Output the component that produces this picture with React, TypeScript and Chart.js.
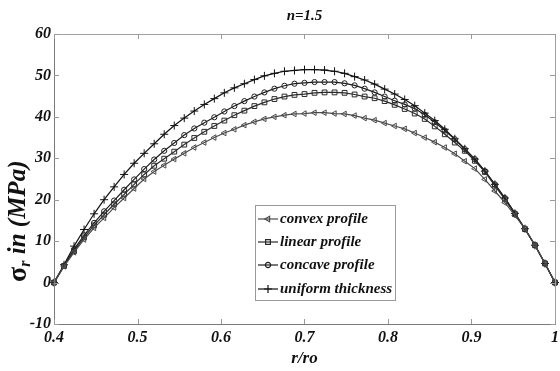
import React, { useEffect, useRef } from "react";
import { Chart, registerables } from "chart.js";

Chart.register(...registerables);

const rRatio = [
  0.4, 0.412, 0.424, 0.436, 0.448, 0.46, 0.472, 0.484, 0.496, 0.508,
  0.52, 0.532, 0.544, 0.556, 0.568, 0.58, 0.592, 0.604, 0.616, 0.628,
  0.64, 0.652, 0.664, 0.676, 0.688, 0.7, 0.712, 0.724, 0.736, 0.748,
  0.76, 0.772, 0.784, 0.796, 0.808, 0.82, 0.832, 0.844, 0.856, 0.868,
  0.88, 0.892, 0.904, 0.916, 0.928, 0.94, 0.952, 0.964, 0.976, 0.988, 1.0,
];

const convexProfile = [
  0, 3.9, 7.3, 10.4, 13.2, 15.6, 18.1, 20.4, 22.7, 25.0,
  26.8, 28.3, 29.8, 31.2, 32.6, 33.8, 35.0, 36.1, 37.0, 38.0,
  38.8, 39.5, 40.0, 40.4, 40.7, 40.8, 41.0, 41.0, 40.8, 40.7,
  40.3, 39.7, 39.2, 38.5, 37.8, 37.1, 36.1, 35.0, 33.9, 32.6,
  31.1, 29.3, 27.5, 24.9, 22.1, 19.3, 16.2, 13.0, 9.0, 4.6, 0,
];

const linearProfile = [
  0, 4.0, 7.6, 10.9, 13.8, 16.4, 18.9, 21.3, 23.7, 26.1,
  28.2, 29.9, 31.6, 33.3, 34.9, 36.4, 37.8, 39.1, 40.4, 41.5,
  42.6, 43.5, 44.3, 44.9, 45.3, 45.5, 45.8, 45.9, 45.9, 45.8,
  45.4, 44.9, 44.5, 43.8, 42.9, 41.9, 40.8, 39.5, 37.7, 35.8,
  33.8, 31.8, 29.4, 26.7, 23.4, 20.1, 16.5, 12.9, 9.0, 4.6, 0,
];

const concaveProfile = [
  0, 4.1, 8.0, 11.4, 14.4, 17.2, 19.8, 22.4, 24.9, 27.4,
  29.7, 31.8, 33.7, 35.6, 37.2, 38.6, 39.9, 41.3, 42.6, 43.8,
  44.9, 45.9, 46.8, 47.5, 48.0, 48.2, 48.4, 48.4, 48.4, 48.1,
  47.6, 46.8, 45.9, 44.9, 43.9, 43.0, 42.0, 40.5, 38.7, 36.7,
  34.6, 32.2, 29.8, 26.9, 23.7, 20.4, 16.7, 13.0, 9.0, 4.6, 0,
];

const uniformThickness = [
  0, 4.3, 8.8, 12.8, 16.6, 20.0, 23.1, 26.1, 28.8, 31.2,
  33.5, 35.8, 37.9, 39.7, 41.4, 43.0, 44.4, 45.8, 47.0, 48.0,
  49.0, 49.9, 50.5, 51.0, 51.2, 51.4, 51.4, 51.3, 51.0, 50.5,
  49.7, 48.9, 47.9, 46.7, 45.5, 44.2, 42.7, 40.9, 39.1, 37.0,
  34.7, 32.3, 29.8, 26.9, 23.7, 20.4, 16.7, 13.0, 9.0, 4.6, 0,
];

const seriesNames = ["convex profile", "linear profile", "concave profile", "uniform thickness"];
const chartTitle = "n=1.5";
const xTitle = "r/ro";

const FONT = "'Liberation Serif', 'Times New Roman', serif";

const styles = [
  { color: "#4a4a4a", pointStyle: "triangle", rotation: -90, radius: 3.2 },
  { color: "#2a2a2a", pointStyle: "rect", rotation: 0, radius: 3.4 },
  { color: "#1e1e1e", pointStyle: "circle", rotation: 0, radius: 2.6 },
  { color: "#111111", pointStyle: "cross", rotation: 0, radius: 4 },
];

function drawMarker(ctx: CanvasRenderingContext2D, style: string, x: number, y: number, r: number, rot: number) {
  ctx.save();
  ctx.translate(x, y);
  ctx.rotate((rot * Math.PI) / 180);
  ctx.beginPath();
  if (style === "triangle") {
    ctx.moveTo(0, -r);
    ctx.lineTo(r * 0.87, r * 0.5);
    ctx.lineTo(-r * 0.87, r * 0.5);
    ctx.closePath();
  } else if (style === "rect") {
    const s = r * Math.SQRT1_2;
    ctx.rect(-s, -s, 2 * s, 2 * s);
  } else if (style === "circle") {
    ctx.arc(0, 0, r, 0, Math.PI * 2);
  } else {
    ctx.moveTo(-r, 0);
    ctx.lineTo(r, 0);
    ctx.moveTo(0, -r);
    ctx.lineTo(0, r);
  }
  ctx.stroke();
  ctx.restore();
}

const framePlugin = {
  id: "framePlugin",
  afterDraw(chart: any) {
    const { ctx, chartArea } = chart;
    const { left, right, top, bottom } = chartArea;
    const xs = chart.scales.x;
    const ys = chart.scales.y;
    ctx.save();
    // frame
    ctx.strokeStyle = "#a0a0a0";
    ctx.lineWidth = 1;
    ctx.strokeRect(left + 0.5, top + 0.5, right - left, bottom - top);
    ctx.strokeStyle = "#7a7a7a";
    ctx.beginPath();
    ctx.moveTo(left + 0.5, top);
    ctx.lineTo(left + 0.5, bottom + 0.5);
    ctx.lineTo(right + 0.5, bottom + 0.5);
    ctx.stroke();
    // inward ticks
    ctx.strokeStyle = "#9a9a9a";
    ctx.beginPath();
    xs.ticks.forEach((t: any) => {
      const px = Math.round(xs.getPixelForValue(t.value)) + 0.5;
      ctx.moveTo(px, bottom);
      ctx.lineTo(px, bottom - 5);
      ctx.moveTo(px, top);
      ctx.lineTo(px, top + 5);
    });
    ys.ticks.forEach((t: any) => {
      const py = Math.round(ys.getPixelForValue(t.value)) + 0.5;
      ctx.moveTo(left, py);
      ctx.lineTo(left + 5, py);
      ctx.moveTo(right, py);
      ctx.lineTo(right - 5, py);
    });
    ctx.stroke();

    // title
    ctx.fillStyle = "#111";
    ctx.font = `bold italic 15px ${FONT}`;
    ctx.textAlign = "center";
    ctx.textBaseline = "middle";
    ctx.fillText(chartTitle, (left + right) / 2, 16);

    // x title
    ctx.font = `bold italic 17px ${FONT}`;
    ctx.fillText(xTitle, (left + right) / 2, 359);

    // y title
    ctx.save();
    ctx.translate(19, 282);
    ctx.rotate(-Math.PI / 2);
    ctx.textAlign = "left";
    ctx.textBaseline = "middle";
    let x0 = 0;
    ctx.font = `bold 28px ${FONT}`;
    ctx.fillText("σ", x0, 0);
    x0 += ctx.measureText("σ").width;
    ctx.font = `bold italic 16px ${FONT}`;
    ctx.fillText("r", x0, 7);
    x0 += ctx.measureText("r").width;
    ctx.font = `bold italic 25px ${FONT}`;
    ctx.fillText(" in (MPa)", x0, 0);
    ctx.restore();

    // legend
    const lx = 255, ly = 205, lw = 140, lh = 95;
    ctx.fillStyle = "#ffffff";
    ctx.fillRect(lx, ly, lw, lh);
    ctx.strokeStyle = "#9a9a9a";
    ctx.strokeRect(lx + 0.5, ly + 0.5, lw, lh);
    const rows = [219, 242, 265, 289];
    ctx.font = `bold italic 15px ${FONT}`;
    ctx.textAlign = "left";
    ctx.textBaseline = "middle";
    seriesNames.forEach((name, i) => {
      const st = styles[i];
      const y = rows[i];
      ctx.strokeStyle = st.color;
      ctx.lineWidth = 1.2;
      ctx.beginPath();
      ctx.moveTo(258, y);
      ctx.lineTo(278, y);
      ctx.stroke();
      drawMarker(ctx, st.pointStyle, 268, y, st.radius, st.rotation);
      ctx.fillStyle = "#111";
      ctx.fillText(name, 280, y);
    });
    ctx.restore();
  },
};

export default function App() {
  const canvasRef = useRef<HTMLCanvasElement | null>(null);

  useEffect(() => {
    document.body.style.margin = "0";
    const canvas = canvasRef.current;
    if (!canvas) return;
    const allSeries = [convexProfile, linearProfile, concaveProfile, uniformThickness];
    const datasets = allSeries.map((vals, i) => ({
      label: seriesNames[i],
      data: rRatio.map((r, j) => ({ x: r, y: vals[j] })),
      borderColor: styles[i].color,
      borderWidth: 1.2,
      pointStyle: styles[i].pointStyle as any,
      pointRotation: styles[i].rotation,
      pointRadius: styles[i].radius,
      pointBorderColor: styles[i].color,
      pointBackgroundColor: "rgba(255,255,255,0)",
      pointBorderWidth: 1,
      tension: 0,
      fill: false,
      clip: false as any,
    }));

    const chart = new Chart(canvas, {
      type: "line",
      data: { datasets },
      options: {
        animation: false,
        responsive: false,
        maintainAspectRatio: false,
        layout: { padding: { left: 0, right: 5, top: 34, bottom: 0 } },
        plugins: {
          legend: { display: false },
          title: { display: false },
          tooltip: { enabled: false },
        },
        scales: {
          x: {
            type: "linear",
            min: 0.4,
            max: 1,
            ticks: {
              stepSize: 0.1,
              color: "#111",
              font: { family: FONT, size: 16, weight: "bold", style: "italic" },
              padding: 4,
              maxRotation: 0,
              callback: (v: any) => String(Number(Number(v).toFixed(1))),
            },
            grid: { display: false, drawTicks: false },
            border: { display: false },
            afterFit: (scale: any) => {
              scale.height = 47;
              scale.paddingRight = 0;
            },
          },
          y: {
            type: "linear",
            min: -10,
            max: 60,
            ticks: {
              stepSize: 10,
              color: "#111",
              font: { family: FONT, size: 16, weight: "bold", style: "italic" },
              padding: 3,
            },
            grid: { display: false, drawTicks: false },
            border: { display: false },
            afterFit: (scale: any) => {
              scale.width = 54;
            },
          },
        },
      },
      plugins: [framePlugin],
    });
    return () => chart.destroy();
  }, []);

  return (
    <div style={{ position: "absolute", left: 0, top: 0, width: 560, height: 371, background: "#fff" }}>
      <canvas ref={canvasRef} width={560} height={371} style={{ width: 560, height: 371 }} />
    </div>
  );
}
